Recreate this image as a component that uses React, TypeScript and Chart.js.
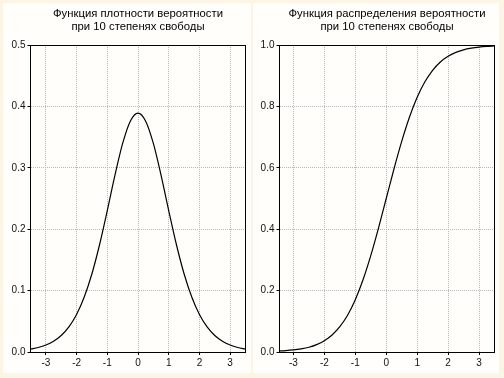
import React, { useEffect, useRef } from "react";
import { Chart, registerables } from "chart.js";

Chart.register(...registerables);
Chart.defaults.font.family = "'Liberation Sans', Arial, sans-serif";

const xValues = [
  -3.5, -3.25, -3, -2.75, -2.5, -2.25, -2, -1.75, -1.5, -1.25, -1, -0.75, -0.5, -0.25, 0,
  0.25, 0.5, 0.75, 1, 1.25, 1.5, 1.75, 2, 2.25, 2.5, 2.75, 3, 3.25, 3.5,
];
const pdfValues = [
  0.0048, 0.0074, 0.0114, 0.0176, 0.0269, 0.0409, 0.0611, 0.0895, 0.1274, 0.1751, 0.2304, 0.288, 0.3397, 0.376, 0.3891,
  0.376, 0.3397, 0.288, 0.2304, 0.1751, 0.1274, 0.0895, 0.0611, 0.0409, 0.0269, 0.0176, 0.0114, 0.0074, 0.0048,
];
const cdfValues = [
  0.0029, 0.0044, 0.0067, 0.0103, 0.0156, 0.0241, 0.0367, 0.0553, 0.0823, 0.1198, 0.1704, 0.2353, 0.314, 0.4038, 0.5,
  0.5962, 0.686, 0.7647, 0.8296, 0.8802, 0.9177, 0.9447, 0.9633, 0.9759, 0.9844, 0.9897, 0.9933, 0.9956, 0.9971,
];
const xTicks = [-3, -2, -1, 0, 1, 2, 3];
const pdfYTicks = [0, 0.1, 0.2, 0.3, 0.4, 0.5];
const cdfYTicks = [0, 0.2, 0.4, 0.6, 0.8, 1.0];
const leftTitle = ["Функция плотности вероятности", "при 10 степенях свободы"];
const rightTitle = ["Функция распределения вероятности", "при 10 степенях свободы"];

const frameBox = {
  id: "frameBox",
  afterDatasetsDraw(chart: any) {
    const { ctx, chartArea } = chart;
    const l = Math.floor(chartArea.left) + 0.5;
    const t = Math.floor(chartArea.top) + 0.5;
    const r = Math.floor(chartArea.right) + 0.5;
    const b = Math.floor(chartArea.bottom) + 0.5;
    ctx.save();
    ctx.strokeStyle = "#000";
    ctx.lineWidth = 1;
    ctx.setLineDash([]);
    ctx.strokeRect(l, t, r - l, b - t);
    ctx.restore();
  },
};

function makeConfig(
  values: number[],
  title: string[],
  xMin: number,
  xMax: number,
  yTicks: number[],
  yWidth: number,
  padRight: number
): any {
  return {
    type: "line",
    data: {
      datasets: [
        {
          data: xValues.map((x, i) => ({ x, y: values[i] })),
          borderColor: "#000",
          borderWidth: 1.2,
          pointRadius: 0,
          cubicInterpolationMode: "monotone",
          fill: false,
        },
      ],
    },
    options: {
      animation: false,
      responsive: false,
      maintainAspectRatio: false,
      events: [],
      layout: { padding: { left: 0, top: 3, right: padRight, bottom: 4 } },
      plugins: {
        legend: { display: false },
        tooltip: { enabled: false },
        title: {
          display: true,
          text: title,
          fullSize: false,
          color: "#000",
          font: { size: 11.3, weight: "normal", lineHeight: 1.2 },
          padding: { top: 4, bottom: 10.9 },
        },
      },
      scales: {
        x: {
          type: "linear",
          min: xMin,
          max: xMax,
          afterBuildTicks: (s: any) => {
            s.ticks = xTicks.map((v) => ({ value: v }));
          },
          afterFit: (s: any) => {
            s.height = 22;
          },
          grid: {
            color: "#b8b8b8",
            lineWidth: 1,
            tickLength: 3,
            tickColor: "#000",
            tickBorderDash: [],
          },
          border: { display: false, dash: [1, 1] },
          ticks: {
            color: "#111",
            font: { size: 10 },
            padding: 2,
            maxRotation: 0,
            callback: (v: any) => String(v),
          },
        },
        y: {
          type: "linear",
          min: yTicks[0],
          max: yTicks[yTicks.length - 1],
          afterBuildTicks: (s: any) => {
            s.ticks = yTicks.map((v) => ({ value: v }));
          },
          afterFit: (s: any) => {
            s.width = yWidth;
          },
          grid: {
            color: "#b8b8b8",
            lineWidth: 1,
            tickLength: 3,
            tickColor: "#000",
            tickBorderDash: [],
          },
          border: { display: false, dash: [1, 1] },
          ticks: {
            color: "#111",
            font: { size: 10 },
            padding: 2,
            callback: (v: any) => Number(v).toFixed(1),
          },
        },
      },
    },
    plugins: [frameBox],
  };
}

export default function App() {
  const leftRef = useRef<HTMLCanvasElement | null>(null);
  const rightRef = useRef<HTMLCanvasElement | null>(null);

  useEffect(() => {
    const c1 = new Chart(
      leftRef.current as HTMLCanvasElement,
      makeConfig(pdfValues, leftTitle, -3.5, 3.5, pdfYTicks, 30.5, 6.5)
    );
    const c2 = new Chart(
      rightRef.current as HTMLCanvasElement,
      makeConfig(cdfValues, rightTitle, -3.45, 3.5, cdfYTicks, 27.5, 9.5)
    );
    return () => {
      c1.destroy();
      c2.destroy();
    };
  }, []);

  return (
    <div
      style={{
        position: "fixed",
        left: 0,
        top: 0,
        width: 504,
        height: 378,
        background: "#fcf5e4",
        overflow: "hidden",
      }}
    >
      <div style={{ position: "absolute", left: 3, top: 3, width: 248, height: 370, background: "#fffefa" }} />
      <div style={{ position: "absolute", left: 253, top: 3, width: 246, height: 370, background: "#fffefa" }} />
      <canvas
        ref={leftRef}
        width={252}
        height={378}
        style={{ position: "absolute", left: 0, top: 0, width: 252, height: 378 }}
      />
      <canvas
        ref={rightRef}
        width={252}
        height={378}
        style={{ position: "absolute", left: 252, top: 0, width: 252, height: 378 }}
      />
    </div>
  );
}
